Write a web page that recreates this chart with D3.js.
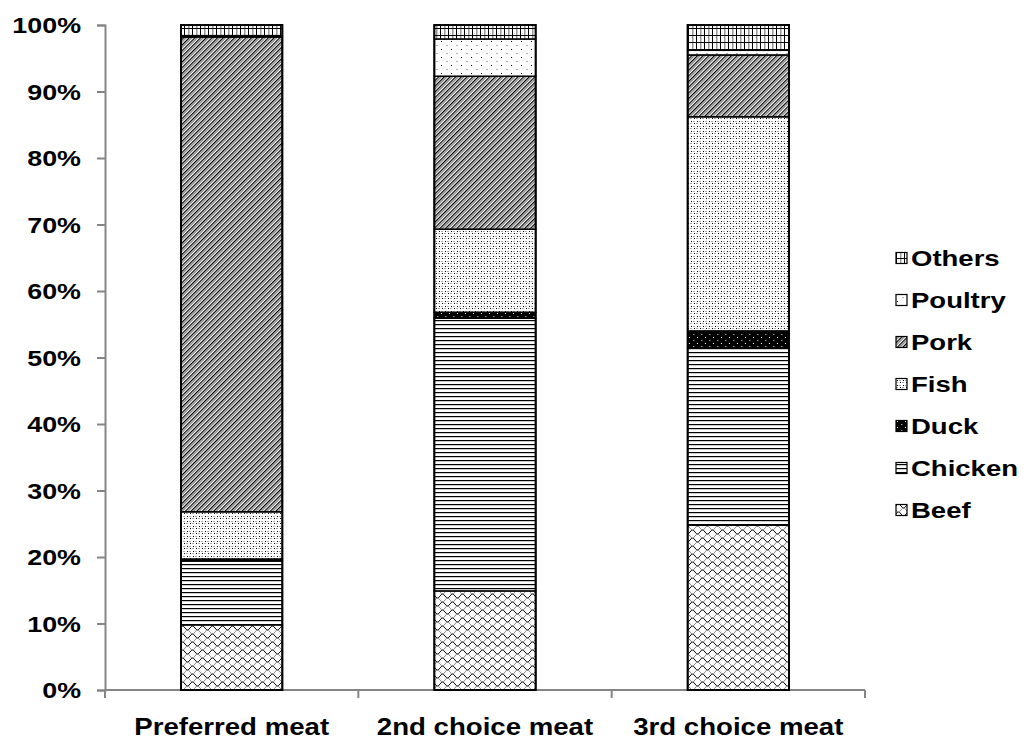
<!DOCTYPE html>
<html>
<head>
<meta charset="utf-8">
<script src="https://cdn.jsdelivr.net/npm/d3@7"></script>
<style>
  html, body { margin: 0; padding: 0; background: #fff; }
  svg text { font-family: "Liberation Sans", Arial, sans-serif; font-weight: bold; fill: #000; }
</style>
</head>
<body>
<svg id="chart" width="1025" height="742"></svg>
<script>
// Share of respondents (%) by meat choice
const categories = ["Preferred meat", "2nd choice meat", "3rd choice meat"];
const seriesNames = ["Beef", "Chicken", "Duck", "Fish", "Pork", "Poultry", "Others"];
const beef    = [9.8, 14.9, 24.8];
const chicken = [9.6, 41.0, 26.6];
const duck    = [0.3, 0.9, 2.6];
const fish    = [7.1, 12.5, 32.2];
const pork    = [71.4, 23.0, 9.3];
const poultry = [0.2, 5.6, 0.7];
const others  = [1.6, 2.1, 3.8];
const yTicks  = [0, 10, 20, 30, 40, 50, 60, 70, 80, 90, 100];

const seriesValues = { Beef: beef, Chicken: chicken, Duck: duck, Fish: fish, Pork: pork, Poultry: poultry, Others: others };
const rows = categories.map((c, i) => {
  const r = { category: c };
  seriesNames.forEach(s => { r[s] = seriesValues[s][i]; });
  return r;
});

const svg = d3.select("#chart");
const defs = svg.append("defs");

// ---- fill patterns ----
function pat(id, w, h) {
  return defs.append("pattern").attr("id", id).attr("patternUnits", "userSpaceOnUse")
    .attr("width", w).attr("height", h);
}
// Beef: scale / shingle texture
{
  const p = pat("p-beef", 10, 8);
  p.append("rect").attr("width", 10).attr("height", 8).attr("fill", "#fff");
  p.append("path").attr("d", "M0,4 Q2.5,0 5,4 Q7.5,8 10,4").attr("fill", "none").attr("stroke", "#000").attr("stroke-width", 1);
  p.append("path").attr("d", "M0,0 Q2.5,4 5,0 M5,8 Q7.5,4 10,8").attr("fill", "none").attr("stroke", "#888").attr("stroke-width", 1);
}
// Chicken: horizontal lines
{
  const p = pat("p-chicken", 8, 4);
  p.append("rect").attr("width", 8).attr("height", 4).attr("fill", "#fff");
  p.append("rect").attr("y", 0).attr("width", 8).attr("height", 1.2).attr("fill", "#000");
}
// Duck: solid dark with small light dots
{
  const p = pat("p-duck", 8, 6);
  p.append("rect").attr("width", 8).attr("height", 6).attr("fill", "#000");
  p.append("rect").attr("x", 1).attr("y", 1).attr("width", 1).attr("height", 1).attr("fill", "#fff");
  p.append("rect").attr("x", 5).attr("y", 4).attr("width", 1.5).attr("height", 1).attr("fill", "#999");
}
// Fish: fine dotted
{
  const p = pat("p-fish", 6, 5);
  p.append("rect").attr("width", 6).attr("height", 5).attr("fill", "#fff");
  p.append("rect").attr("x", 1).attr("y", 1).attr("width", 1).attr("height", 1).attr("fill", "#000");
  p.append("rect").attr("x", 4).attr("y", 3).attr("width", 1).attr("height", 1).attr("fill", "#000");
  p.append("rect").attr("x", 3).attr("y", 1).attr("width", 2).attr("height", 1).attr("fill", "#aaa");
  p.append("rect").attr("x", 0).attr("y", 3).attr("width", 2).attr("height", 1).attr("fill", "#aaa");
}
// Pork: wide upward diagonal
{
  const p = pat("p-pork", 4, 4).attr("patternTransform", "rotate(45)");
  p.append("rect").attr("width", 4).attr("height", 4).attr("fill", "#fff");
  p.append("rect").attr("x", 0).attr("width", 1.3).attr("height", 4).attr("fill", "#000");
  p.append("rect").attr("x", 2).attr("width", 1).attr("height", 4).attr("fill", "#888");
}
// Poultry: sparse dots
{
  const p = pat("p-poultry", 10, 8);
  p.append("rect").attr("width", 10).attr("height", 8).attr("fill", "#fff");
  p.append("rect").attr("x", 1).attr("y", 1).attr("width", 1).attr("height", 1).attr("fill", "#000");
  p.append("rect").attr("x", 6).attr("y", 5).attr("width", 2).attr("height", 1).attr("fill", "#aaa");
}
// Others: small grid
{
  const p = pat("p-others", 8, 7);
  p.append("rect").attr("width", 8).attr("height", 7).attr("fill", "#fff");
  p.append("rect").attr("x", 0).attr("width", 1).attr("height", 7).attr("fill", "#000");
  p.append("rect").attr("x", 4).attr("width", 1.5).attr("height", 7).attr("fill", "#999");
  p.append("rect").attr("y", 0).attr("width", 8).attr("height", 1).attr("fill", "#000");
}
const fills = {
  Beef: "url(#p-beef)", Chicken: "url(#p-chicken)", Duck: "url(#p-duck)", Fish: "url(#p-fish)",
  Pork: "url(#p-pork)", Poultry: "url(#p-poultry)", Others: "url(#p-others)"
};

// ---- scales ----
const x = d3.scaleBand().domain(categories).range([105, 865]).paddingInner(0.6).paddingOuter(0.3);
const y = d3.scaleLinear().domain([0, 100]).range([690, 25]);

// widen glyphs horizontally
function stretch(k) {
  return sel => sel.each(function () {
    const w = this.getComputedTextLength();
    d3.select(this).attr("textLength", w * k).attr("lengthAdjust", "spacingAndGlyphs");
  });
}

// ---- axes ----
const axisColor = "#858585";
const yAxis = svg.append("g").attr("transform", "translate(105,0)")
  .call(d3.axisLeft(y).tickValues(yTicks).tickSize(8).tickPadding(16).tickFormat(d => d + "%"));
yAxis.select(".domain").attr("stroke", axisColor).attr("stroke-width", 2);
yAxis.selectAll(".tick line").attr("stroke", axisColor).attr("stroke-width", 2);
yAxis.selectAll(".tick text").attr("font-size", 22).attr("font-family", null).attr("dy", "0.36em").call(stretch(1.22));

const xEdges = [105].concat(categories.map(c => x(c) + x.bandwidth() / 2 + x.step() / 2));
const xAxis = svg.append("g").attr("transform", "translate(0,690)");
xAxis.append("line").attr("x1", 105).attr("x2", 865).attr("y1", 0).attr("y2", 0)
  .attr("stroke", axisColor).attr("stroke-width", 2);
xAxis.selectAll("line.tk").data(xEdges).join("line").attr("class", "tk")
  .attr("x1", d => d).attr("x2", d => d).attr("y1", 0).attr("y2", 8)
  .attr("stroke", axisColor).attr("stroke-width", 2);
xAxis.selectAll("text").data(categories).join("text")
  .attr("x", d => x(d) + x.bandwidth() / 2).attr("y", 45)
  .attr("text-anchor", "middle").attr("font-size", 23).text(d => d).call(stretch(1.2));

// ---- stacked bars ----
const stacked = d3.stack().keys(seriesNames)(rows);
const layers = svg.append("g").selectAll("g").data(stacked).join("g")
  .attr("fill", d => fills[d.key]);
layers.selectAll("rect").data(d => d).join("rect")
  .attr("x", d => x(d.data.category))
  .attr("width", x.bandwidth())
  .attr("y", d => y(d[1]))
  .attr("height", d => y(d[0]) - y(d[1]))
  .attr("stroke", "#000").attr("stroke-width", 1.5);
// bar outlines
svg.append("g").selectAll("rect").data(rows).join("rect")
  .attr("x", d => x(d.category)).attr("width", x.bandwidth())
  .attr("y", y(100)).attr("height", y(0) - y(100))
  .attr("fill", "none").attr("stroke", "#000").attr("stroke-width", 2);

// ---- legend (top entry is the top series) ----
const legendNames = seriesNames.slice().reverse();
const legend = svg.append("g").selectAll("g").data(legendNames).join("g")
  .attr("transform", (d, i) => `translate(896,${258 + i * 42})`);
legend.append("rect").attr("x", 0).attr("y", -5.5).attr("width", 11).attr("height", 11)
  .attr("fill", d => fills[d]).attr("stroke", "#000").attr("stroke-width", 1.2);
legend.append("text").attr("x", 15).attr("y", 0).attr("dy", "0.36em")
  .attr("font-size", 22).text(d => d).call(stretch(1.25));
</script>
</body>
</html>
